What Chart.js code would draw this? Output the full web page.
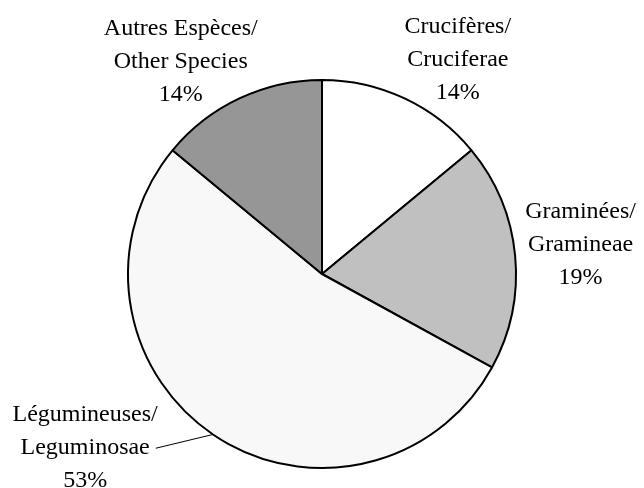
<!DOCTYPE html>
<html>
<head>
<meta charset="utf-8">
<script src="https://cdn.jsdelivr.net/npm/chart.js@4"></script>
<style>
  html, body { margin: 0; padding: 0; background: #fff; }
  #wrap { width: 644px; height: 488px; position: relative; }
</style>
</head>
<body>
<div id="wrap"><canvas id="myChart"></canvas></div>
<script>
// data
const categories = [
  ['Crucifères/', 'Cruciferae'],
  ['Graminées/', 'Gramineae'],
  ['Légumineuses/', 'Leguminosae'],
  ['Autres Espèces/', 'Other Species']
];
const shares = [14, 19, 53, 14];
const sliceColors = ['#ffffff', '#c0c0c0', '#f8f8f8', '#969696'];

// label anchors, in units of the pie radius, from the pie centre
// (x = centre of text block, y = first baseline)
const labelAnchors = [
  [0.70, -1.241],
  [1.333, -0.287],
  [-1.221, 0.759],
  [-0.728, -1.231]
];
const leaderFor = [false, false, true, false];

const labelPlugin = {
  id: 'sliceLabels',
  afterDraw(chart) {
    const ctx = chart.ctx;
    const meta = chart.getDatasetMeta(0);
    const total = shares.reduce((a, b) => a + b, 0);
    ctx.save();
    ctx.font = '24px "Liberation Serif", "Times New Roman", serif';
    ctx.fillStyle = '#000';
    ctx.textAlign = 'center';
    ctx.textBaseline = 'alphabetic';
    const lh = 33;
    meta.data.forEach((arc, i) => {
      const r = arc.outerRadius;
      const cx = arc.x + labelAnchors[i][0] * r;
      const y0 = arc.y + labelAnchors[i][1] * r;
      const lines = categories[i].concat([Math.round(shares[i] / total * 100) + '%']);
      lines.forEach((t, j) => ctx.fillText(t, cx, y0 + j * lh));
      if (leaderFor[i]) {
        const w = ctx.measureText(lines[1]).width;
        const mid = (arc.startAngle + arc.endAngle) / 2;
        ctx.beginPath();
        ctx.strokeStyle = '#000';
        ctx.lineWidth = 1;
        ctx.moveTo(cx + w / 2 + 6, y0 + lh - 6);
        ctx.lineTo(arc.x + Math.cos(mid) * r, arc.y + Math.sin(mid) * r);
        ctx.stroke();
      }
    });
    ctx.restore();
  }
};

const ctx = document.getElementById('myChart');
new Chart(ctx, {
  type: 'pie',
  data: {
    labels: categories.map(c => c.join(' ')),
    datasets: [{
      data: shares,
      backgroundColor: sliceColors,
      borderColor: '#000',
      borderWidth: 2
    }]
  },
  options: {
    responsive: true,
    maintainAspectRatio: false,
    animation: false,
    layout: { padding: { top: 79, bottom: 19, left: 0, right: 0 } },
    plugins: {
      legend: { display: false },
      tooltip: { enabled: false }
    }
  },
  plugins: [labelPlugin]
});
</script>
</body>
</html>
